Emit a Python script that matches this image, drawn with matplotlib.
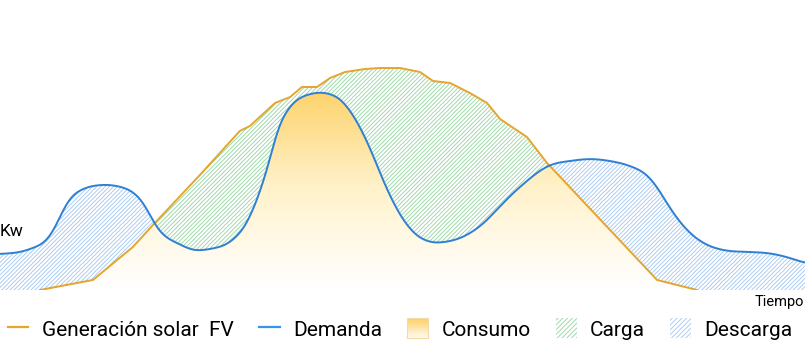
import numpy as np
import matplotlib.pyplot as plt
from matplotlib.colors import LinearSegmentedColormap
from matplotlib.lines import Line2D
from matplotlib.patches import Patch, Rectangle
from matplotlib.legend_handler import HandlerBase

plt.rcParams['font.family'] = ['Roboto', 'DejaVu Sans']
plt.rcParams['hatch.linewidth'] = 0.6

# Demanda (hora, kW)
t_dem = [0.0, 0.60, 0.98, 1.40, 1.64, 1.85, 2.09, 2.47, 2.98, 3.49, 3.96, 4.26, 4.47,
         4.68, 4.98, 5.28, 5.75, 6.26, 6.86, 7.36, 7.66, 7.96, 8.29, 8.71, 9.24, 9.72,
         10.14, 10.58, 11.03, 11.48, 11.93, 12.37, 12.82, 13.27, 13.86, 14.46, 14.91,
         15.50, 16.40, 16.99, 17.59, 18.19, 18.78, 19.29, 19.59, 19.88, 20.18, 20.57,
         21.08, 21.55, 22.36, 22.87, 23.34, 24.0]
demanda = [1.44, 1.52, 1.68, 2.00, 2.48, 3.12, 3.68, 4.04, 4.20, 4.16, 3.92, 3.52, 3.00,
           2.48, 2.08, 1.88, 1.60, 1.64, 1.92, 2.68, 3.60, 4.80, 6.48, 7.44, 7.84, 7.88,
           7.64, 6.88, 5.68, 4.20, 3.00, 2.24, 1.92, 1.92, 2.16, 2.72, 3.36,
           4.12, 5.00, 5.16, 5.24, 5.16, 4.96, 4.60, 4.12, 3.48, 2.88, 2.28,
           1.80, 1.60, 1.52, 1.48, 1.36, 1.08]

# Generación solar FV (hora, kW)
t_gen = [1.19, 2.77, 3.96, 4.56, 5.96, 7.15, 7.45, 8.20, 8.65, 9.00, 9.45, 9.84, 10.29,
         10.88, 11.33, 11.93, 12.52, 12.91, 13.42, 14.01, 14.52, 14.91, 15.71, 16.31,
         19.59, 20.78]
generacion = [0, 0.40, 1.72, 2.60, 4.60, 6.36, 6.56, 7.48, 7.72, 8.12, 8.12, 8.48, 8.72,
              8.84, 8.88, 8.88, 8.72, 8.36, 8.28, 7.88, 7.48, 6.84, 6.12, 5.08,
              0.40, 0]

labels = ['Generación solar  FV', 'Demanda', 'Consumo', 'Carga', 'Descarga']

c_gen = '#e6a52c'
c_dem = '#2f7fd3'
c_carga = '#93d39f'
c_desc = '#a1c6ef'
HATCH = '/' * 8


def smooth(x, y, step=0.01, sigma=0.14):
    # trazo suave entre los puntos leídos: Hermite + suavizado gaussiano ligero
    x = np.asarray(x, float)
    y = np.asarray(y, float)
    m = np.gradient(y, x)
    xs = np.arange(x[0], x[-1] + step / 2, step)
    k = np.clip(np.searchsorted(x, xs, side='right') - 1, 0, len(x) - 2)
    h = x[k + 1] - x[k]
    s = (xs - x[k]) / h
    ys = ((2 * s ** 3 - 3 * s ** 2 + 1) * y[k] + (s ** 3 - 2 * s ** 2 + s) * h * m[k]
          + (-2 * s ** 3 + 3 * s ** 2) * y[k + 1] + (s ** 3 - s ** 2) * h * m[k + 1])
    r = int(4 * sigma / step)
    ker = np.exp(-0.5 * (np.arange(-r, r + 1) * step / sigma) ** 2)
    ker /= ker.sum()
    pad = np.r_[np.full(r, ys[0]), ys, np.full(r, ys[-1])]
    return xs, np.convolve(pad, ker, mode='valid')


fig = plt.figure(figsize=(8.05, 3.52), dpi=100)
ax = fig.add_axes([0, 62 / 352, 1, 290 / 352])

td, dd = smooth(t_dem, demanda)

# rejilla común para los rellenos
t = np.union1d(td, t_gen)
d = np.interp(t, td, dd)
g = np.interp(t, t_gen, generacion, left=0, right=0)
low = np.minimum(d, g)

# consumo con degradado
poly = ax.fill_between(t, 0, low, facecolor='none', edgecolor='none')
cmap = LinearSegmentedColormap.from_list('sol', ['#ffffff', '#fff1c8', '#fdd36c'])
grad = np.linspace(0, 1, 256).reshape(-1, 1) ** 1.1
img = ax.imshow(grad, cmap=cmap, aspect='auto', origin='lower',
                extent=[0, 24, 0, 7.9], zorder=1)
img.set_clip_path(poly.get_paths()[0], transform=ax.transData)

ax.fill_between(t, d, g, where=g >= d, interpolate=True, facecolor='none',
                edgecolor=c_carga, hatch=HATCH, linewidth=0, zorder=2)
ax.fill_between(t, low, d, where=d >= g, interpolate=True, facecolor='none',
                edgecolor=c_desc, hatch=HATCH, linewidth=0, zorder=2)

ax.plot(t_gen, generacion, color=c_gen, lw=1.4, zorder=3)
ax.plot(td, dd, color=c_dem, lw=1.4, zorder=4)

ax.set_xlim(0, 24)
ax.set_ylim(0, 11.6)
ax.axis('off')

fig.text(0.0, 1 - 232 / 352, 'Kw', fontsize=12.5, va='center', ha='left')
fig.text(0.999, 1 - 302 / 352, 'Tiempo', fontsize=10.5, va='center', ha='right')


class GradHandler(HandlerBase):
    def create_artists(self, legend, orig, xd, yd, w, h, fs, trans):
        arts = []
        n = 12
        cm = LinearSegmentedColormap.from_list('l', ['#fdd06a', '#fffaf0'])
        for i in range(n):
            arts.append(Rectangle((-xd, -yd + h * (n - 1 - i) / n), w, h / n,
                                  facecolor=cm(i / (n - 1)), edgecolor='none',
                                  transform=trans))
        arts.append(Rectangle((-xd, -yd), w, h, facecolor='none',
                              edgecolor='#f6d9a8', lw=0.8, transform=trans))
        return arts


handles = [Line2D([], [], color=c_gen, lw=1.6),
           Line2D([], [], color='#3a94ee', lw=1.6),
           Patch(),
           Patch(facecolor='white', edgecolor=c_carga, hatch='/' * 7, linewidth=0),
           Patch(facecolor='white', edgecolor=c_desc, hatch='/' * 7, linewidth=0)]
fig.legend(handles, labels, loc='center', bbox_to_anchor=(0.497, 1 - 329 / 352),
           ncol=5, frameon=False, fontsize=15, handlelength=1.0, handleheight=1.1,
           handletextpad=0.65, columnspacing=1.2, borderaxespad=0, borderpad=0,
           handler_map={handles[2]: GradHandler()})

fig.savefig('out.png', dpi=100)
